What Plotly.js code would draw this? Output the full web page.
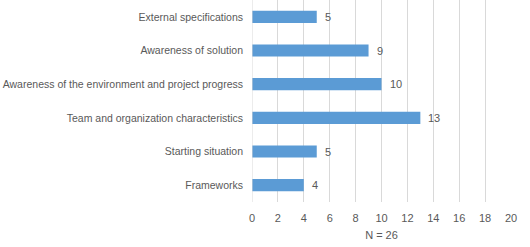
<!DOCTYPE html>
<html><head><meta charset="utf-8">
<script src="https://cdn.plot.ly/plotly-3.0.1.min.js"></script>
<style>html,body{margin:0;padding:0;background:#fff}</style>
</head><body>
<div id="chart" style="width:530px;height:247px"></div>
<script>
const categories = ["Frameworks","Starting situation","Team and organization characteristics","Awareness of the environment and project progress","Awareness of solution","External specifications"];
const counts = [4,5,13,10,9,5];
const xTicks = [0,2,4,6,8,10,12,14,16,18,20];
const xTitle = "N = 26";

const font = {family:"Liberation Sans, Arial, sans-serif", size:10.5, color:"#595959"};
const trace = {
  type:"bar", orientation:"h", x:counts, y:categories,
  marker:{color:"#5B9BD5", line:{width:0}},
  hoverinfo:"none"
};
const annotations = counts.map((v,i)=>({
  x:v, y:categories[i], xref:"x", yref:"y", text:String(v),
  showarrow:false, xanchor:"left", xshift:6, font:{...font, size:11}
}));
const layout = {
  width:530, height:247,
  margin:{l:252, r:19, t:0, b:45},
  paper_bgcolor:"#fff", plot_bgcolor:"#fff",
  bargap:0.64,
  showlegend:false,
  font:font,
  xaxis:{range:[0,20], tickvals:xTicks, ticktext:xTicks.map(String),
    showgrid:true, gridcolor:"#D9D9D9", gridwidth:1, zeroline:false,
    showline:false, ticks:"", ticklabelstandoff:8, tickfont:{...font, size:11},
    title:{text:xTitle, font:{...font, size:11}, standoff:8}, fixedrange:true},
  yaxis:{type:"category", range:[-0.5,5.5], showgrid:false, zeroline:false,
    showline:false, ticks:"", ticklabelstandoff:8, tickfont:font, automargin:false},
  shapes:[{type:"line", xref:"x", yref:"paper", x0:0, x1:0, y0:0, y1:1,
    line:{color:"#D9D9D9", width:1}}],
  annotations:annotations
};
Plotly.newPlot("chart",[trace],layout,{displayModeBar:false,staticPlot:true});
</script>
</body></html>
